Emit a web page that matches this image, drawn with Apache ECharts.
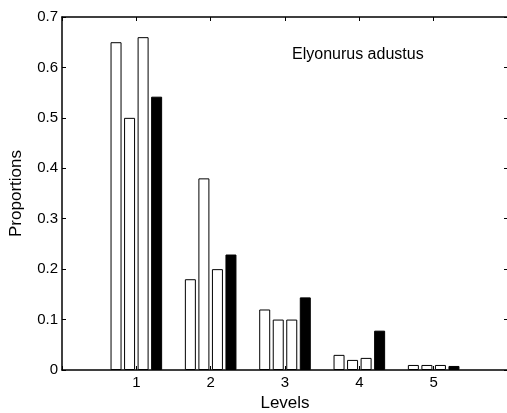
<!DOCTYPE html>
<html>
<head>
<meta charset="utf-8">
<script src="https://cdn.jsdelivr.net/npm/echarts@6/dist/echarts.min.js"></script>
<style>
  html, body { margin: 0; padding: 0; background: #fff; }
  #chart { width: 507px; height: 413px; }
</style>
</head>
<body>
<div id="chart"></div>
<script>
// Proportion of plants at each level, four samples per level
const levels = [1, 2, 3, 4, 5];
const sampleA = [0.65, 0.18, 0.12, 0.03, 0.01];
const sampleB = [0.50, 0.38, 0.10, 0.02, 0.01];
const sampleC = [0.66, 0.20, 0.10, 0.024, 0.01];
const sampleD = [0.542, 0.229, 0.144, 0.078, 0.008];
const yTicks = [0, 0.1, 0.2, 0.3, 0.4, 0.5, 0.6, 0.7];

const FONT = 'Liberation Sans, Arial, sans-serif';
const pairs = vals => levels.map((lv, i) => [lv, vals[i]]);

const chart = echarts.init(document.getElementById('chart'), null, { renderer: 'canvas' });

const barSeries = (name, vals, fill) => ({
  name,
  type: 'bar',
  data: pairs(vals),
  barWidth: 11,
  barGap: '23%',
  itemStyle: { color: fill, borderColor: '#000', borderWidth: 1 },
  emphasis: { disabled: true },
  animation: false
});

const tickCommon = { show: true, inside: true, length: 4, lineStyle: { color: '#000', width: 1 } };
const lineCommon = { show: true, onZero: false, lineStyle: { color: '#000', width: 1.5 } };

chart.setOption({
  animation: false,
  grid: {
    left: 62, top: 17, width: 446, height: 353,
    containLabel: false, outerBoundsMode: 'none'
  },
  xAxis: [
    {
      type: 'value', min: 0, max: 6, interval: 1, position: 'bottom',
      axisLine: lineCommon,
      axisTick: tickCommon,
      splitLine: { show: false },
      axisLabel: {
        color: '#000', fontFamily: FONT, fontSize: 15, margin: 5,
        formatter: v => levels.includes(v) ? String(v) : ''
      },
      name: 'Levels', nameLocation: 'middle', nameGap: 23,
      nameTextStyle: { color: '#000', fontFamily: FONT, fontSize: 17 }
    },
    {
      type: 'value', min: 0, max: 6, interval: 1, position: 'top',
      axisLine: lineCommon,
      axisTick: tickCommon, axisLabel: { show: false }, splitLine: { show: false }
    }
  ],
  yAxis: [
    {
      type: 'value', min: 0, max: 0.7, interval: 0.1, position: 'left',
      axisLine: lineCommon,
      axisTick: tickCommon,
      splitLine: { show: false },
      axisLabel: {
        color: '#000', fontFamily: FONT, fontSize: 15, margin: 4,
        formatter: v => {
          const t = yTicks.find(k => Math.abs(k - v) < 1e-9);
          return t === 0 ? '0' : t.toFixed(1);
        }
      },
      name: 'Proportions', nameLocation: 'middle', nameGap: 37,
      nameTextStyle: { color: '#000', fontFamily: FONT, fontSize: 17 }
    },
    {
      type: 'value', min: 0, max: 0.7, interval: 0.1, position: 'right',
      axisLine: lineCommon,
      axisTick: tickCommon, axisLabel: { show: false }, splitLine: { show: false }
    }
  ],
  graphic: [{
    type: 'text', left: 292, top: 47,
    style: { text: 'Elyonurus adustus', fill: '#000', font: '16px ' + FONT }
  }],
  series: [
    barSeries('A', sampleA, '#fff'),
    barSeries('B', sampleB, '#fff'),
    barSeries('C', sampleC, '#fff'),
    barSeries('D', sampleD, '#000')
  ]
});
</script>
</body>
</html>
